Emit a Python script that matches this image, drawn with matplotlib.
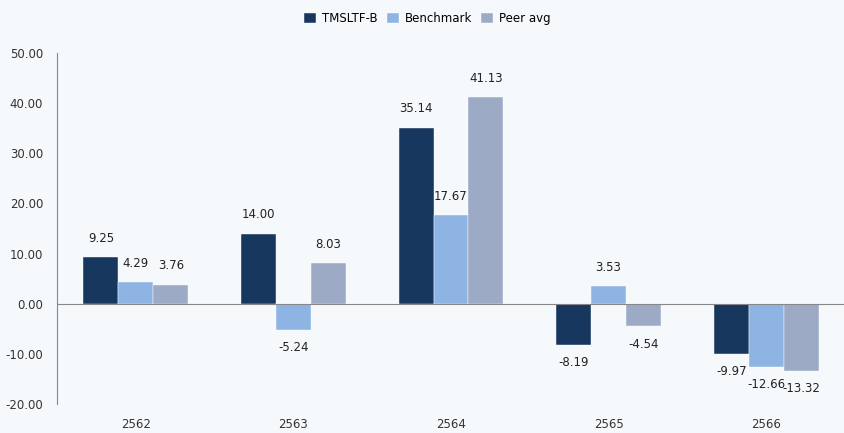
import numpy as np
import matplotlib.pyplot as plt

years = ['2562', '2563', '2564', '2565', '2566']
fund = [9.25, 14.00, 35.14, -8.19, -9.97]
benchmark = [4.29, -5.24, 17.67, 3.53, -12.66]
peer = [3.76, 8.03, 41.13, -4.54, -13.32]

names = ['TMSLTF-B', 'Benchmark', 'Peer avg']
colors = ['#17375E', '#8EB4E3', '#9DAAC6']
bg = '#F6F9FC'

plt.rcParams['font.family'] = ['Tahoma', 'Verdana', 'DejaVu Sans']
fig = plt.figure(figsize=(8.45, 4.33), dpi=100, facecolor=bg)
ax = fig.add_axes([57 / 845, 1 - 404 / 433, 1 - 57 / 845, (404 - 53) / 433])
ax.set_facecolor(bg)

x = np.arange(len(years))
w = 0.222
for i, (vals, name, c) in enumerate(zip([fund, benchmark, peer], names, colors)):
    pos = x + (i - 1) * w
    ax.bar(pos, vals, w, color=c, label=name, edgecolor='white', linewidth=0.3)
    for p, v in zip(pos, vals):
        if v >= 0:
            ax.annotate(f'{v:.2f}', (p, v), xytext=(0, 9), textcoords='offset points',
                        ha='center', va='bottom', fontsize=8.5, color='#222222')
        else:
            ax.annotate(f'{v:.2f}', (p, v), xytext=(0, -8), textcoords='offset points',
                        ha='center', va='top', fontsize=8.5, color='#222222')

ax.set_xlim(-0.5, 4.5)
ax.set_ylim(-20, 50)
ticks = np.arange(-20, 51, 10)
ax.set_yticks(ticks)
ax.set_yticklabels([f'{t:.2f}' for t in ticks], fontsize=8.5, color='#333333')
ax.tick_params(axis='y', length=0, pad=10)
ax.set_xticks(x)
ax.set_xticklabels(years, fontsize=8.5, color='#333333')
ax.tick_params(axis='x', length=0, pad=10)
for s in ['top', 'right', 'bottom']:
    ax.spines[s].set_visible(False)
ax.spines['left'].set_color('#888888')
ax.spines['left'].set_linewidth(0.8)
ax.axhline(0, color='#888888', linewidth=0.8)

ax.legend(loc='center', bbox_to_anchor=(0.47, 1.098), ncol=3,
          frameon=False, fontsize=8.5, handlelength=1.0, handleheight=1.0,
          columnspacing=0.8, handletextpad=0.5)

fig.savefig('out.png', dpi=100, facecolor=bg)
